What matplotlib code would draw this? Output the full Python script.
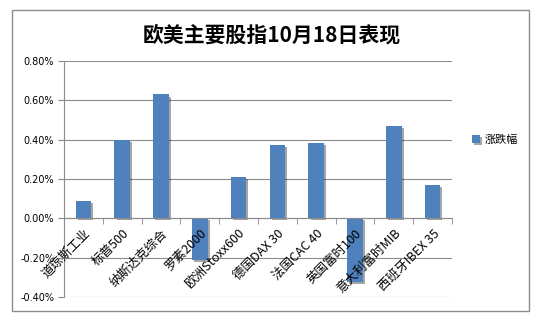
import numpy as np
import matplotlib
matplotlib.use("Agg")
import matplotlib.pyplot as plt
import matplotlib.patheffects as pe
from matplotlib.patches import Rectangle
from matplotlib.ticker import FuncFormatter, FixedLocator

plt.rcParams['font.family'] = ['Noto Sans CJK SC', 'DejaVu Sans']

categories = ["道琼斯工业", "标普500", "纳斯达克综合", "罗素2000", "欧洲Stoxx600",
              "德国DAX 30", "法国CAC 40", "英国富时100", "意大利富时MIB", "西班牙IBEX 35"]
changes = [0.087, 0.40, 0.63, -0.21, 0.21, 0.375, 0.385, -0.325, 0.47, 0.17]
series_name = "涨跌幅"
title = "欧美主要股指10月18日表现"

fig = plt.figure(figsize=(5.44, 3.23), dpi=100)
fig.patch.set_facecolor("white")
# outer chart frame
fig.patches.append(Rectangle((12 / 544, 1 - 311 / 323), 517 / 544, 301 / 323,
                             transform=fig.transFigure, fill=False,
                             edgecolor="#8c8c8c", linewidth=1.0))

ax = fig.add_axes([64 / 544, 1 - 297 / 323, 388 / 544, 236 / 323])
x = np.arange(len(categories))
bars = ax.bar(x, changes, width=0.4, color="#4f81bd", zorder=2, label=series_name)
for b in bars:
    b.set_path_effects([pe.SimplePatchShadow(offset=(1.5, -1.5), shadow_rgbFace="black", alpha=0.35),
                        pe.Normal()])

ax.set_xlim(-0.5, len(categories) - 0.5)
ax.set_ylim(-0.4, 0.8)
yticks = np.arange(-0.4, 0.81, 0.2)
ax.set_yticks(yticks)
ax.yaxis.set_major_formatter(FuncFormatter(lambda v, p: f"{v:.2f}%"))
ax.tick_params(axis="y", length=4, color="#8c8c8c", labelsize=7, pad=3)
for lab in ax.get_yticklabels():
    lab.set_family("DejaVu Sans")
# gridlines behind the bars, tick labels above them
for yv in yticks:
    ax.axhline(yv, color="#8c8c8c", linewidth=0.8, zorder=1)
ax.set_axisbelow(False)

for s in ["top", "right"]:
    ax.spines[s].set_visible(False)
ax.spines["left"].set_color("#8c8c8c")
ax.spines["bottom"].set_position(("data", 0))
ax.spines["bottom"].set_color("#8c8c8c")
ax.spines["bottom"].set_zorder(4)

ax.set_xticks(x)
ax.set_xticklabels(categories, rotation=45, ha="right", rotation_mode="anchor", fontsize=9)
ax.xaxis.set_minor_locator(FixedLocator(np.arange(-0.5, len(categories), 1.0)))
ax.tick_params(axis="x", which="major", length=0, pad=6)
ax.tick_params(axis="x", which="minor", length=4, color="#8c8c8c")

fig.text(0.5, 1 - 35 / 323, title, ha="center", va="center", fontsize=15, fontweight="bold")

handles, labels = ax.get_legend_handles_labels()
fig.legend(handles, labels, loc="center left", bbox_to_anchor=(462 / 544, 1 - 140 / 323),
           frameon=False, fontsize=8, handlelength=0.7, handleheight=0.7, handletextpad=0.4)

fig.savefig("out.png", dpi=100)
